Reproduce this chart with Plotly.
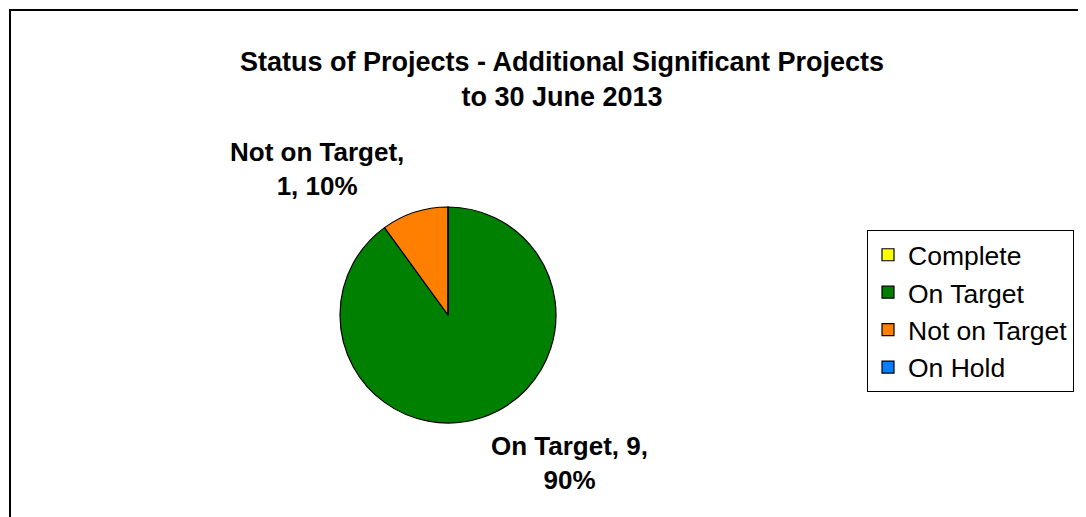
import plotly.graph_objects as go

# Data
categories = ["Complete", "On Target", "Not on Target", "On Hold"]
values = [0, 9, 1, 0]
colors = ["#FFFF00", "#008000", "#FF8000", "#0080FF"]
title_line1 = "Status of Projects - Additional Significant Projects"
title_line2 = "to 30 June 2013"

total = sum(values)
pct = [round(100 * v / total) for v in values]

FONT = "Arial, Liberation Sans, sans-serif"
OFF = 8  # default page body margin
W, H = 1086 - OFF, 517 - OFF


def px(x):
    return (x - OFF) / W


def py(y):
    return 1 - (y - OFF) / H


fig = go.Figure(
    go.Pie(
        labels=categories,
        values=values,
        marker=dict(colors=colors, line=dict(color="black", width=1.2)),
        sort=False,
        direction="clockwise",
        rotation=0,
        textinfo="none",
        hoverinfo="label+value+percent",
        domain=dict(x=[px(340), px(556)], y=[py(423), py(207)]),
    )
)

# Data labels (Excel style, outside the pie)
lbl_not = f"<b>{categories[2]},</b><br><b>{values[2]}, {pct[2]}%</b>"
lbl_on = f"<b>{categories[1]}, {values[1]},</b><br><b>{pct[1]}%</b>"

annotations = [
    dict(text=lbl_not, x=px(317), y=py(169), xref="paper", yref="paper",
         showarrow=False, xanchor="center", yanchor="middle", align="center",
         font=dict(family=FONT, size=26, color="black")),
    dict(text=lbl_on, x=px(569), y=py(463), xref="paper", yref="paper",
         showarrow=False, xanchor="center", yanchor="middle", align="center",
         font=dict(family=FONT, size=26, color="black")),
]

fig.update_layout(
    width=W,
    height=H,
    margin=dict(l=0, r=0, t=0, b=0),
    paper_bgcolor="white",
    plot_bgcolor="white",
    title=dict(
        text=f"<b>{title_line1}</b><br><b>{title_line2}</b>",
        x=px(562), xanchor="center",
        y=py(71), yanchor="middle",
        font=dict(family=FONT, size=27, color="black"),
    ),
    showlegend=True,
    legend=dict(
        x=px(867), xanchor="left",
        y=py(230), yanchor="top",
        bordercolor="black", borderwidth=1,
        bgcolor="white",
        font=dict(family=FONT, size=26.5, color="black"),
        traceorder="normal",
    ),
    annotations=annotations,
    shapes=[
        dict(type="rect", xref="paper", yref="paper",
             x0=px(10), x1=1.05, y0=-0.05, y1=py(10),
             line=dict(color="black", width=2), fillcolor="rgba(0,0,0,0)"),
    ],
)

fig.write_html("out.html")
